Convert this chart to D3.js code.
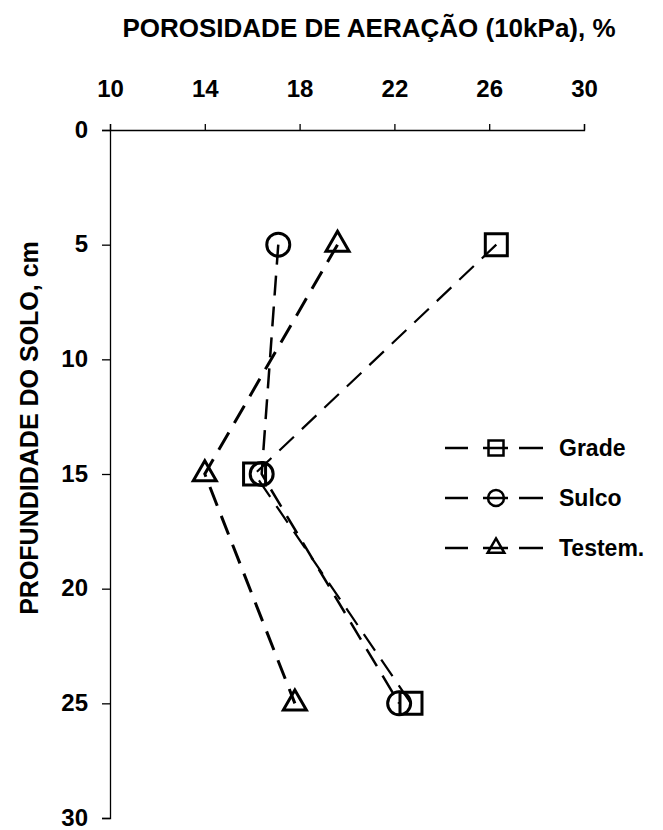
<!DOCTYPE html>
<html lang="pt">
<head>
<meta charset="UTF-8">
<title>Porosidade de aeração</title>
<script src="https://d3js.org/d3.v7.min.js"></script>
<style>
  body { margin: 0; background: #fff; }
  svg text { font-family: "Liberation Sans", Arial, sans-serif; font-weight: bold; fill: #000; }
</style>
</head>
<body>
<svg width="663" height="830"></svg>
<script>
// profundidade (cm) e porosidade de aeração (%) por tratamento
const depths = [5, 15, 25];
const grade  = [26.3, 16.1, 22.7];
const sulco  = [17.1, 16.4, 22.2];
const testem = [19.6, 14.0, 17.8];
const seriesNames = ["Grade", "Sulco", "Testem."];
const xTicks = [10, 14, 18, 22, 26, 30];
const yTicks = [0, 5, 10, 15, 20, 25, 30];

const svg = d3.select("svg");
const x = d3.scaleLinear().domain([10, 30]).range([110, 584]);
const y = d3.scaleLinear().domain([0, 30]).range([130, 818]);

// eixo superior
const gx = svg.append("g").attr("transform", "translate(0,130)")
  .call(d3.axisTop(x).tickValues(xTicks).tickSize(6).tickPadding(27));
gx.selectAll("text").attr("font-size", 24).attr("dy", 0);

// eixo esquerdo
const gy = svg.append("g").attr("transform", "translate(110,0)")
  .call(d3.axisLeft(y).tickValues(yTicks).tickSize(8).tickPadding(14));
gy.selectAll("text").attr("font-size", 24).attr("dy", "0.3em");

svg.selectAll(".domain, .tick line").attr("stroke", "#000").attr("stroke-width", 1.3);

// títulos
svg.append("text").attr("x", 369).attr("y", 37)
  .attr("text-anchor", "middle").attr("font-size", 26)
  .text("POROSIDADE DE AERAÇÃO (10kPa), %");
svg.append("text").attr("transform", "translate(38,428) rotate(-90)")
  .attr("text-anchor", "middle").attr("font-size", 25)
  .text("PROFUNDIDADE DO SOLO, cm");

const series = [
  { name: seriesNames[0], values: grade,  sym: d3.symbolSquare,   size: 484, lsize: 225, width: 2.2 },
  { name: seriesNames[1], values: sulco,  sym: d3.symbolCircle,   size: 415, lsize: 200, width: 2.5 },
  { name: seriesNames[2], values: testem, sym: d3.symbolTriangle, size: 230, lsize: 120, width: 3 }
];

const line = d3.line().x(d => x(d[0])).y(d => y(d[1]));

series.forEach(s => {
  const pts = depths.map((dp, i) => [s.values[i], dp]);
  svg.append("path").datum(pts)
    .attr("d", line)
    .attr("fill", "none").attr("stroke", "#000")
    .attr("stroke-width", s.width).attr("stroke-dasharray", "20,11");
  svg.selectAll(null).data(pts).enter().append("path")
    .attr("transform", d => `translate(${x(d[0])},${y(d[1])})`)
    .attr("d", d3.symbol().type(s.sym).size(s.size))
    .attr("fill", "none").attr("stroke", "#000").attr("stroke-width", 3);
});

// legenda
const leg = svg.append("g");
series.forEach((s, i) => {
  const ly = 448 + i * 50;
  const g = leg.append("g").attr("transform", `translate(0,${ly})`);
  [[445, 468], [483, 508], [519, 543]].forEach(([a, b]) => {
    g.append("line").attr("x1", a).attr("x2", b).attr("y1", 0).attr("y2", 0)
      .attr("stroke", "#000").attr("stroke-width", 2.5);
  });
  g.append("path").attr("transform", "translate(496,0)")
    .attr("d", d3.symbol().type(s.sym).size(s.lsize))
    .attr("fill", "none").attr("stroke", "#000").attr("stroke-width", 2.5);
  g.append("text").attr("x", 559).attr("y", 8).attr("font-size", 23).text(s.name);
});
</script>
</body>
</html>
